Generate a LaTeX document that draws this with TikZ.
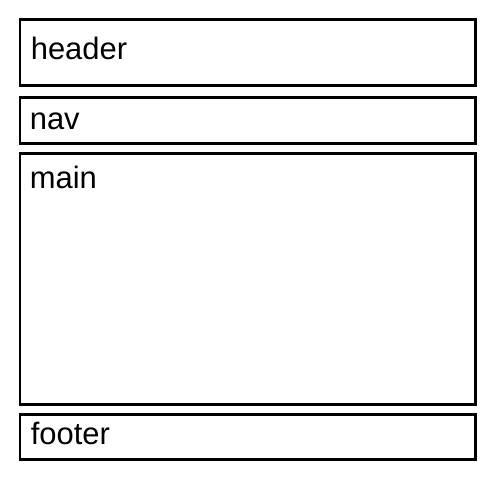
\documentclass[tikz,border=0pt]{standalone}
\usepackage{fontspec}
\setmainfont{Liberation Sans}
\usepackage{tikz}
\usetikzlibrary{positioning}

\begin{document}
\begin{tikzpicture}[
    region/.style={
        rectangle,
        draw=black,
        line width=1.7pt,
        fill=white,
        minimum width=9.1cm,
        outer sep=0pt,
        inner sep=0pt
    },
    tag/.style={
        anchor=base west,
        inner sep=0pt,
        font=\fontsize{17.6}{21}\selectfont
    }
]
\useasboundingbox (0,0) rectangle (10,10);
\node (header) [region, minimum height=1.31cm] at (4.95,8.945) {};
\node (nav) [region, minimum height=0.93cm, below=0.24cm of header] {};
\node (main) [region, minimum height=5.02cm, below=0.19cm of nav] {};
\node (footer) [region, minimum height=0.9cm, below=0.2cm of main] {};
\node (headertext) [tag] at ([shift={(0.21,-0.8)}]header.north west) {header};
\node (navtext) [tag] at ([shift={(0.19,-0.65)}]nav.north west) {nav};
\node (maintext) [tag] at ([shift={(0.19,-0.7)}]main.north west) {main};
\node (footertext) [tag] at ([shift={(0.21,-0.6)}]footer.north west) {footer};
\end{tikzpicture}
\end{document}
